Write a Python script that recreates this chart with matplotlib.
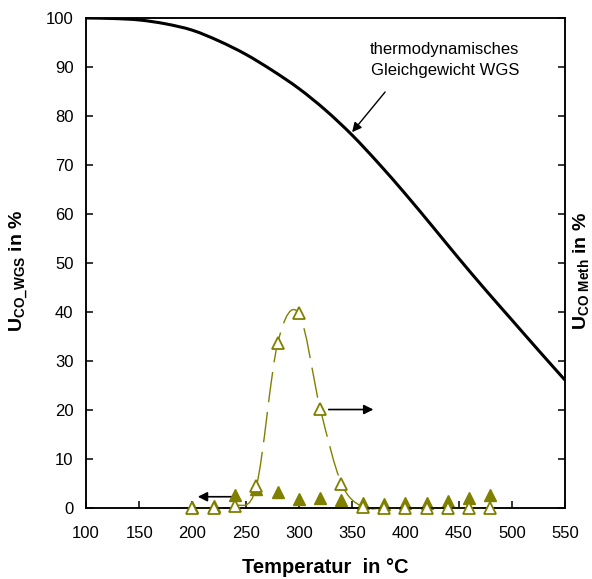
import numpy as np
import matplotlib
matplotlib.use("Agg")
import matplotlib.pyplot as plt
from matplotlib.path import Path
from matplotlib.patches import PathPatch

plt.rcParams['font.family'] = ['Liberation Sans', 'DejaVu Sans']
plt.rcParams['mathtext.fontset'] = 'custom'
plt.rcParams['mathtext.rm'] = 'Liberation Sans:bold'
plt.rcParams['mathtext.it'] = 'Liberation Sans:bold'
plt.rcParams['mathtext.bf'] = 'Liberation Sans:bold'

# thermodynamic equilibrium of the WGS reaction
t_eq = [100, 125, 150, 175, 200, 225, 250, 275, 300, 325, 350, 375, 400, 425, 450, 475, 500, 525, 550]
u_eq = [100, 99.9, 99.6, 98.8, 97.5, 95.3, 92.6, 89.3, 85.6, 81.2, 76.1, 70.3, 64.1, 57.6, 51.0, 44.6, 38.4, 32.2, 26.1]

# measured conversions
t_meas = [200, 220, 240, 260, 280, 300, 320, 340, 360, 380, 400, 420, 440, 460, 480]
u_wgs = [0.2, 0.4, 2.6, 3.9, 3.2, 1.9, 2.0, 1.6, 1.0, 0.9, 1.0, 1.0, 1.5, 2.0, 2.6]
u_meth = [0.0, 0.0, 0.4, 4.4, 33.6, 39.7, 20.3, 5.0, 0.2, 0.0, 0.0, 0.0, 0.0, 0.0, 0.0]

olive = '#808000'


def smooth_path(x, y):
    # Catmull-Rom spline through the points, drawn as cubic Bezier pieces
    p = np.column_stack([x, y]).astype(float)
    pts = np.vstack([p[0], p, p[-1]])
    verts = [tuple(p[0])]
    codes = [Path.MOVETO]
    for i in range(1, len(pts) - 2):
        c1 = pts[i] + (pts[i + 1] - pts[i - 1]) / 6
        c2 = pts[i + 1] - (pts[i + 2] - pts[i]) / 6
        verts += [tuple(c1), tuple(c2), tuple(pts[i + 1])]
        codes += [Path.CURVE4] * 3
    return Path(verts, codes)


fig = plt.figure(figsize=(5.92, 5.79), dpi=100)
ax = fig.add_axes([0.1453, 0.1226, 0.8091, 0.8463])
ax2 = ax.twinx()

ax.add_patch(PathPatch(smooth_path(t_eq, u_eq), fill=False, edgecolor='black',
                       lw=2.2, capstyle='butt', zorder=3))
ax.plot(t_meas, u_wgs, linestyle='none', marker='^', ms=8.5, color=olive,
        mec=olive, clip_on=False, zorder=4)

ax2.add_patch(PathPatch(smooth_path(t_meas, u_meth), fill=False, edgecolor=olive,
                        lw=1.0, linestyle=(0, (22, 7)), clip_on=False))
ax2.plot(t_meas, u_meth, linestyle='none', marker='^', ms=8.5, mfc='white',
         mec=olive, mew=1.3, clip_on=False, zorder=4)

for a in (ax, ax2):
    a.set_xlim(100, 550)
    a.set_ylim(0, 100)
    for s in a.spines.values():
        s.set_linewidth(1.1)
ax.set_xticks(np.arange(100, 551, 50))
ax.set_yticks(np.arange(0, 101, 10))
ax2.set_yticks(np.arange(0, 101, 10))
ax2.set_yticklabels([])
ax.tick_params(direction='in', length=5, width=1.1, labelsize=12)
ax.tick_params(axis='y', pad=9)
ax.tick_params(axis='x', pad=13)
ax2.tick_params(direction='in', length=5, width=1.1)

ax.set_xlabel('Temperatur  in °C', fontsize=14.5, fontweight='bold', labelpad=12)
ax.set_ylabel(r'U$_{\rm CO\_WGS}$ in %', fontsize=14, fontweight='bold')
ax2.set_ylabel(r'U$_{\rm CO\ Meth}$ in %', fontsize=14, fontweight='bold')
ax.yaxis.set_label_coords(-0.115, 0.484)
ax2.yaxis.set_label_coords(1.0135, 0.484)

ax.text(437, 91.5, 'thermodynamisches\nGleichgewicht WGS', ha='center', va='center',
        fontsize=12, linespacing=1.5)
ax.annotate('', xy=(350, 76.7), xytext=(381, 84.9),
            arrowprops=dict(arrowstyle='-|>', color='black', lw=1.0,
                            mutation_scale=14, shrinkA=0, shrinkB=0))
ax.annotate('', xy=(205, 2.3), xytext=(240, 2.3),
            arrowprops=dict(arrowstyle='-|>', color='black', lw=1.2,
                            mutation_scale=14, shrinkA=0, shrinkB=0))
ax2.annotate('', xy=(370, 20.1), xytext=(328, 20.1),
             arrowprops=dict(arrowstyle='-|>', color='black', lw=1.2,
                             mutation_scale=14, shrinkA=0, shrinkB=0))

fig.savefig('out.png', dpi=100)
